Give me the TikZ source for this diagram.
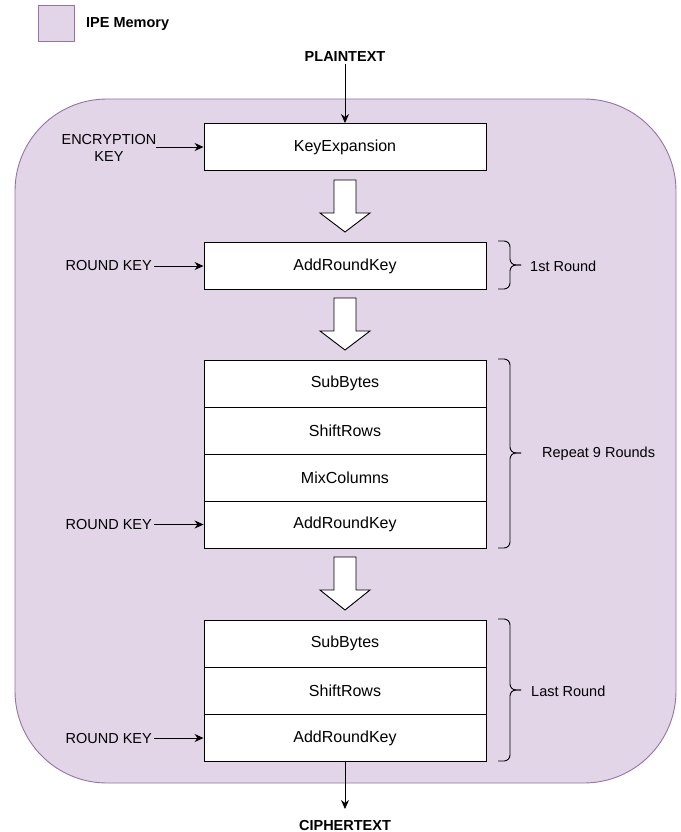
\documentclass[tikz,border=0pt]{standalone}
\usepackage{fontspec}
\setmainfont{Liberation Sans}
\usetikzlibrary{arrows.meta}
\definecolor{ipefill}{HTML}{E1D5E7}
\definecolor{ipeline}{HTML}{9673A6}
\tikzset{
  stagebox/.style={draw=black, line width=0.9pt, fill=white, minimum width=282pt, minimum height=47pt, inner sep=0pt, font=\fontsize{16}{19}\selectfont},
  lbl/.style={font=\fontsize{14.5}{17.5}\selectfont, inner sep=2pt},
  boldlbl/.style={font=\fontsize{14.5}{17}\selectfont\bfseries, inner sep=2pt},
  conn/.style={line width=0.9pt, -{Stealth[length=9pt,width=8pt]}},
  bigarrow/.style={draw=black, line width=0.9pt, fill=white},
  bracepath/.style={line width=0.9pt, rounded corners=6pt},
}
\begin{document}
\begin{tikzpicture}[x=1pt,y=-1pt]
\useasboundingbox (0,0) rectangle (680,832);
% legend
\node[draw=ipeline, fill=ipefill, line width=0.9pt, minimum width=36pt, minimum height=36pt, inner sep=0pt] (leg) at (56,23) {};
\node[boldlbl, anchor=west] (legtxt) at (84,24) {IPE Memory};
% container
\draw[draw=ipeline, fill=ipefill, line width=0.9pt, rounded corners=92pt] (15,99) rectangle (676,783);
% top
\node[boldlbl] (plain) at (345,57) {PLAINTEXT};
\node[stagebox] (kexp) at (345,147) {KeyExpansion};
\draw[conn] (plain.south) -- (kexp.north);
\node[lbl, align=center] (enc) at (109,148) {ENCRYPTION\\KEY};
\coordinate (encE) at (156,147);
\draw[conn] (encE) -- (kexp.west);
% block arrow helper
\newcommand{\blockarrow}[2]{%
  \draw[bigarrow] (334,#1) -- (356,#1) -- (356,#1+33) -- (370,#1+33) -- (345,#2) -- (320,#1+33) -- (334,#1+33) -- cycle;}
\blockarrow{180}{232}
% first round
\node[stagebox] (ark1) at (345,266) {AddRoundKey};
\node[lbl, anchor=east] (rk1) at (154,266) {ROUND KEY};
\draw[conn] (rk1.east) -- (ark1.west);
\draw[bracepath] (498,241) -- (510,241) -- (510,265) -- (521,265);
\draw[bracepath] (498,289) -- (510,289) -- (510,265) -- (521,265);
\node[lbl, anchor=west] (r1) at (528,266) {1st Round};
\blockarrow{298}{350}
% repeat rounds
\node[stagebox] (sb1) at (345,383.5) {SubBytes};
\node[stagebox] (sr1) at (345,430.5) {ShiftRows};
\node[stagebox] (mc1) at (345,477.5) {MixColumns};
\node[stagebox] (ark2) at (345,524.5) {AddRoundKey};
\node[lbl, anchor=east] (rk2) at (154,524.5) {ROUND KEY};
\draw[conn] (rk2.east) -- (ark2.west);
\draw[bracepath] (498,359) -- (510,359) -- (510,453) -- (521,453);
\draw[bracepath] (498,548) -- (510,548) -- (510,453) -- (521,453);
\node[lbl, anchor=west] (r9) at (540,454) {Repeat 9 Rounds};
\blockarrow{557}{610}
% last round
\node[stagebox] (sb2) at (345,643.5) {SubBytes};
\node[stagebox] (sr2) at (345,690.5) {ShiftRows};
\node[stagebox] (ark3) at (345,738) {AddRoundKey};
\node[lbl, anchor=east] (rk3) at (154,738) {ROUND KEY};
\draw[conn] (rk3.east) -- (ark3.west);
\draw[bracepath] (498,619) -- (510,619) -- (510,690) -- (521,690);
\draw[bracepath] (498,761) -- (510,761) -- (510,690) -- (521,690);
\node[lbl, anchor=west] (rl) at (529,691) {Last Round};
% bottom
\node[boldlbl, inner sep=0pt, anchor=base] (ciph) at (345,830.5) {CIPHERTEXT};
\coordinate (ciphtop) at (345,809);
\draw[conn] (ark3.south) -- (ciphtop);
\end{tikzpicture}
\end{document}
